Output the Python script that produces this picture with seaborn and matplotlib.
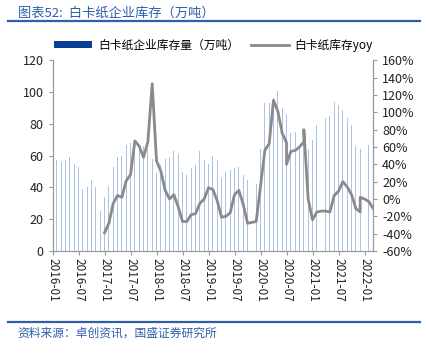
import numpy as np
import pandas as pd
import matplotlib
matplotlib.use("Agg")
import matplotlib.pyplot as plt
from matplotlib.lines import Line2D
from matplotlib.patches import Patch
import seaborn as sns

# ============================
# Dados
# ============================
months = pd.period_range("2016-01", "2022-03", freq="M").strftime("%Y-%m").tolist()

# estoque de papel cartão branco (万吨), 2016-01 .. 2022-03
stock = [58, 57, 56, 57, 59, 55, 53, 39, 40, 45, 40, 25,
         34, 41, 53, 59, 60, 67, 68, 67, 65, 66, 64, 58,
         49, 54, 58, 59, 63, 61, 50, 48, 52, 54, 63, 57,
         55, 60, 57, 46, 50, 51, 52, 53, 48, 45, np.nan, 42,
         64, 93, 93, 96, 101, 90, 86, 74, 75, 64, 77, 64,
         70, 79, np.nan, 84, 85, 94, 92, 89, 84, 79, 66, 64,
         np.nan, 67, 64]

# yoy (%), 2017-01 .. 2022-03
yoy_months = months[12:]
yoy = [-39, -28, -5, 4, 2, 21, 28, 67, 61, 48, 66, 133,
       44, 32, 10, 0, 5, -9, -26, -26, -18, -17, -5, 0,
       13, 11, -2, -21, -20, -16, 5, 10, -6, -28, -27, -26,
       15, 56, 64, 114, 101, 76, 65, 55, 56, 60, 66, 0,
       -24, -15, -14, -14, -15, 4, 9, 20, 14, 5, -11, -15,
       0, -3, -11]

# pontos extras no mesmo mês (saltos verticais da série)
jump_months = ["2020-07", "2020-11", "2021-12"]
jump_vals = [40, 80, 2]

BAR_BLUE = "#a9c2e6"
LEG_BLUE = "#0b3f97"
GRAY = "#8a8a8a"
TXT_BLUE = "#2e5fa8"

plt.rcParams["font.family"] = ["Noto Sans CJK SC", "DejaVu Sans"]
plt.rcParams["axes.unicode_minus"] = False

# montar dados
pos = {m: i for i, m in enumerate(months)}
df_bar = pd.DataFrame({"x": range(len(months)), "estoque": stock}).dropna()

xs, ys = [], []
for m, v in zip(yoy_months, yoy):
    xs.append(pos[m])
    ys.append(v)
    if m in jump_months:
        xs.append(pos[m])
        ys.append(jump_vals[jump_months.index(m)])
df_line = pd.DataFrame({"x": xs, "yoy": ys})

# ============================
# Gráfico
# ============================
fig = plt.figure(figsize=(4.27, 3.53), dpi=100)
ax = fig.add_axes([0.123, 0.289, 0.751, 0.540])

sns.barplot(data=df_bar, x="x", y="estoque", native_scale=True, width=0.24,
            color=BAR_BLUE, errorbar=None, ax=ax, saturation=1)
ax2 = ax.twinx()
sns.lineplot(data=df_line, x="x", y="yoy", estimator=None, sort=False,
             color=GRAY, lw=2.0, ax=ax2)

ax.set_xlim(0, len(months) - 1)
ax.set_ylim(0, 120)
ax.set_yticks(range(0, 121, 20))
ax2.set_ylim(-60, 160)
ax2.set_yticks(range(-60, 161, 20))
ax2.set_yticklabels([f"{v}%" for v in range(-60, 161, 20)])
ax.set_xticks(range(0, len(months), 6))
ax.set_xticklabels(months[::6], rotation=-90)

for a in (ax, ax2):
    a.set_xlabel("")
    a.set_ylabel("")
    a.grid(False)
    a.spines["top"].set_visible(False)
    for s in ("left", "right", "bottom"):
        a.spines[s].set_color("#9a9a9a")
        a.spines[s].set_linewidth(0.9)
    a.tick_params(colors="#9a9a9a", labelcolor="#222222", labelsize=9,
                  length=3, width=0.8, direction="out")
ax.tick_params(axis="x", labelsize=8.5, pad=2)
ax.spines["right"].set_visible(False)
ax2.spines["left"].set_visible(False)
ax2.spines["bottom"].set_visible(False)

# legenda
handles = [Patch(facecolor=LEG_BLUE, edgecolor="none"),
           Line2D([], [], color=GRAY, lw=2)]
fig.legend(handles, ["白卡纸企业库存量（万吨）", "白卡纸库存yoy"],
           loc="center", bbox_to_anchor=(0.5, 0.872), ncol=2, frameon=False,
           fontsize=8.5, handlelength=3.2, handleheight=0.5, columnspacing=1.0,
           handletextpad=0.5)

# título e rodapé
fig.text(0.042, 0.962, "图表52:  白卡纸企业库存（万吨）", color=TXT_BLUE,
         fontsize=9.5, va="center", ha="left")
fig.add_artist(Line2D([0.019, 0.984], [0.940, 0.940], color=TXT_BLUE, lw=1.6))
fig.add_artist(Line2D([0.019, 0.984], [0.088, 0.088], color=TXT_BLUE, lw=1.6))
fig.text(0.042, 0.057, "资料来源：卓创资讯，国盛证券研究所", color=TXT_BLUE,
         fontsize=8.5, va="center", ha="left")

fig.savefig("out.png", dpi=100)
